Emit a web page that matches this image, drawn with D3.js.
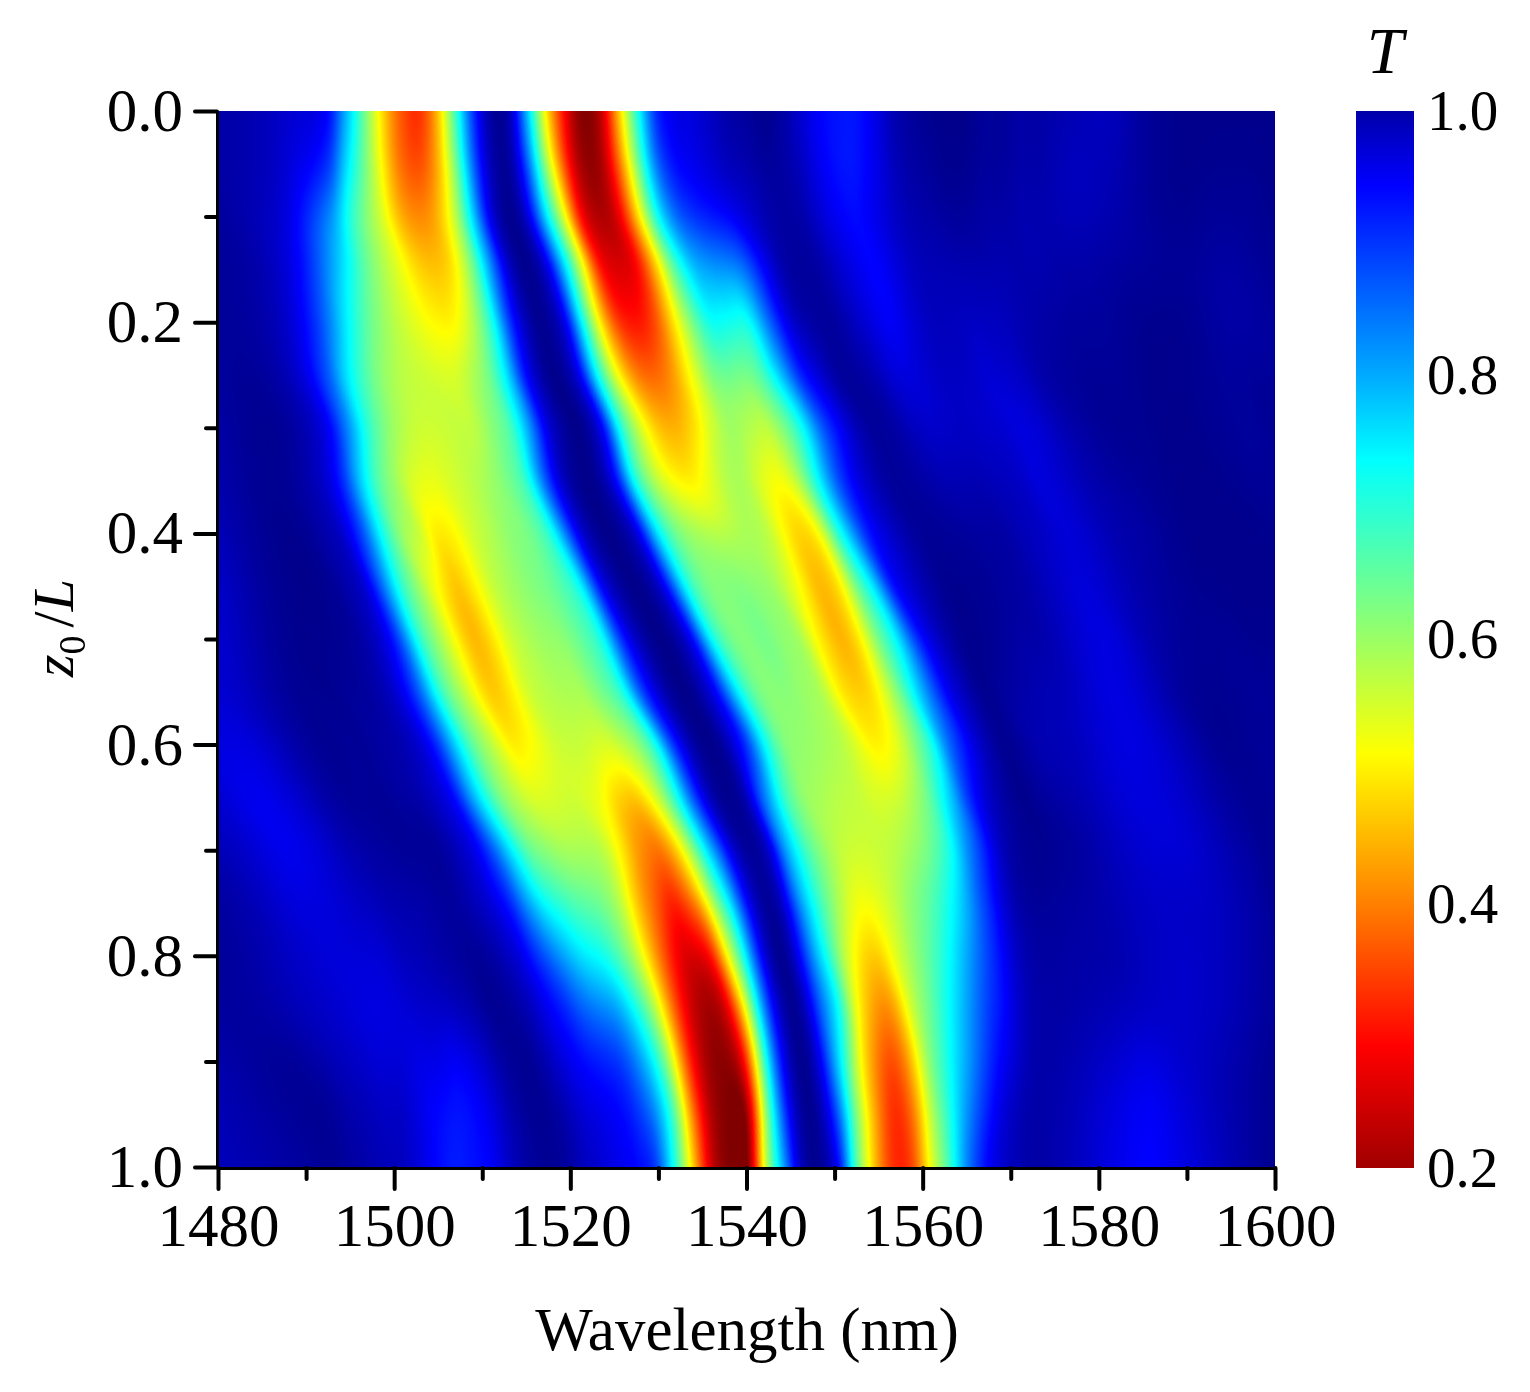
<!DOCTYPE html>
<html><head><meta charset="utf-8">
<style>html,body{margin:0;background:#fff}#w{position:relative;width:1530px;height:1392px}canvas,svg{position:absolute;left:0;top:0}
text{font-family:"Liberation Serif",serif;fill:#000}</style>
<script src="https://cdn.jsdelivr.net/npm/d3@7"></script></head><body><div id="w"><canvas id="c" width="1530" height="1392"></canvas><svg id="s" width="1530" height="1392"></svg></div>
<script>
const wavelengths=[1480,1484.1,1488.3,1492.5,1494.5,1496.6,1498.7,1500.7,1502.8,1504.8,1506.9,1509,1511,1513.1,1515.1,1517.2,1519.4,1521.3,1523.5,1525.6,1527.6,1529.7,1531.7,1533.8,1535.9,1537.9,1540,1542.2,1544.2,1546.2,1548.3,1550.5,1552.5,1554.6,1556.6,1558.7,1560.9,1562.8,1565,1567.1,1569,1571.2,1573.2,1577.4,1581.5,1585.6,1589.7,1593.9,1598.1,1600];
const positions=[0,.05,.1,.15,.2,.25,.3,.35,.4,.45,.5,.55,.6,.65,.7,.75,.8,.85,.9,.95,1];
// how far (nm) the central dark valley has moved at each position; rows are joined along this drift
const valleyDrift=[0,.3,1.1,3.1,4.7,6.1,8.5,10.1,12.8,15.6,18.4,21.1,24.3,26.7,29.4,30.8,31.9,33.2,34.3,35.1,35.4];
// T x 100 at each position (rows) and wavelength (columns)
const t00=[97,96,94,91,78,62,47,37,33,44,66,87,98,95,72,47,29,20,26,49,70,88,92,93,95,97,98,99,97,93,90,89,89,92,96,98,99,99,99,98,98,97,97,96,95,98,99,99,99,99];
const t05=[97,96,93,88,74,62,49,38,35,42,59,82,95,97,84,58,33,22,23,39,60,81,90,92,94,96,97,98,97,95,91,88,88,91,95,97,98,99,99,98,98,97,97,95,96,98,99,99,99,99];
const t10=[98,96,93,80,69,60,53,44,41,44,53,71,91,99,94,74,55,32,23,27,45,66,80,87,90,92,93,95,97,97,94,91,90,92,94,96,97,98,98,97,97,96,96,95,96,98,99,98,98,99];
const t15=[98,97,92,78,70,62,56,51,47,46,49,63,80,95,99,93,75,54,31,28,30,44,62,73,77,79,80,90,97,98,97,94,92,90,92,95,96,96,96,96,96,96,96,97,98,98,98,97,98,99];
const t20=[98,97,93,81,71,63,58,54,51,49,49,57,68,87,96,98,91,67,44,32,30,37,49,60,70,69,67,82,92,97,98,97,94,91,90,93,95,95,95,95,95,96,97,98,98,99,99,97,97,98];
const t25=[97,98,95,84,73,65,59,56,55,54,54,57,61,72,88,98,98,90,70,53,42,38,40,48,58,60,60,65,75,87,93,98,98,97,94,93,94,95,95,93,94,95,97,98,98,99,99,98,98,98];
const t30=[97,99,98,92,81,68,60,56,54,54,55,55,60,66,78,93,98,99,91,67,54,46,45,49,55,58,56,55,61,68,80,89,95,98,97,95,94,94,94,93,93,92,93,97,99,99,99,98,98,99];
const t35=[96,98,98,93,85,72,62,56,53,52,53,55,58,61,66,83,95,99,97,86,67,55,49,47,51,56,56,52,51,57,70,84,92,96,98,98,97,96,96,96,96,95,93,95,97,98,99,99,98,98];
const t40=[95,98,99,96,93,84,68,58,56,48,48,53,56,59,60,66,81,94,99,98,93,74,64,60,58,57,57,56,50,46,50,69,82,90,94,97,98,98,98,98,98,96,95,93,96,97,99,99,99,99];
const t45=[93,97,99,99,97,94,80,66,58,49,44,49,55,58,60,62,65,70,90,97,99,95,82,66,60,60,60,59,55,50,44,47,60,72,90,94,97,99,99,99,98,97,96,93,95,97,99,99,99,99];
const t50=[93,97,99,99,98,97,93,84,67,58,50,44,47,53,56,58,59,62,68,85,95,99,98,91,69,61,60,62,59,57,48,43,48,60,68,81,92,97,99,99,98,97,97,94,92,96,98,98,99,99];
const t55=[94,96,98,99,98,98,96,92,83,69,59,51,45,48,54,56,57,57,62,68,82,92,98,99,93,82,68,60,59,58,57,49,46,47,55,67,80,90,95,99,98,97,96,95,92,95,98,99,98,98];
const t60=[92,93,97,99,98,98,97,96,93,85,72,61,55,48,50,53,55,55,55,57,59,68,87,97,99,95,88,70,60,59,58,56,52,48,51,60,68,82,90,96,99,97,95,95,92,93,96,99,98,98];
const t65=[94,91,93,97,98,98,98,97,96,94,90,76,65,57,54,53,53,52,51,46,44,52,65,81,95,99,97,79,65,59,57,55,54,52,53,56,60,70,84,93,97,99,98,97,94,93,94,97,98,98];
const t70=[96,93,91,94,96,97,98,99,99,99,96,91,82,70,61,58,56,56,56,49,41,40,47,62,80,93,98,93,75,65,59,55,54,54,55,58,62,69,82,90,97,99,99,98,95,93,93,96,98,99];
const t75=[98,96,93,93,94,95,96,96,96,97,97,95,93,89,78,69,65,63,61,55,44,37,31,39,54,68,89,98,94,79,67,58,52,52,55,60,64,69,76,85,93,97,98,97,96,95,95,95,97,99];
const t80=[98,97,95,93,93,93,93,95,96,97,98,99,98,95,91,85,78,72,68,62,54,42,31,26,28,50,70,93,99,89,72,58,49,46,51,57,62,68,76,84,89,95,97,97,97,95,94,95,97,98];
const t85=[98,97,95,94,93,92,92,93,94,95,96,97,99,98,96,92,88,83,80,77,68,55,38,26,22,28,52,82,96,97,85,74,53,43,42,54,62,70,78,85,89,95,97,97,96,95,94,95,97,98];
const t90=[96,98,99,96,95,94,93,93,92,92,90,92,95,98,99,96,92,90,89,87,80,69,52,31,22,22,33,66,90,99,91,70,51,40,35,44,60,68,76,84,90,95,97,96,94,92,94,96,98,99];
const t95=[96,97,98,99,97,96,95,95,92,89,88,89,92,96,98,99,97,94,92,90,86,78,65,40,24,20,20,60,87,98,96,80,60,43,33,39,56,67,79,88,94,97,97,95,92,90,93,96,98,99];
const t100=[95,96,97,98,98,97,96,95,93,90,88,89,90,94,97,98,98,96,94,92,91,88,70,50,28,20,20,54,74,94,99,92,64,45,34,34,50,63,80,90,94,96,97,95,92,90,92,95,98,99];
const transmission=[t00,t05,t10,t15,t20,t25,t30,t35,t40,t45,t50,t55,t60,t65,t70,t75,t80,t85,t90,t95,t100];
transmission.forEach((r,i)=>{if(r.length!==wavelengths.length)throw new Error('row '+i+' has '+r.length)});

const xTicks=[1480,1500,1520,1540,1560,1580,1600], xMinor=[1490,1510,1530,1550,1570,1590];
const yTicks=[0,.2,.4,.6,.8,1], yMinor=[.1,.3,.5,.7,.9];
const barTicks=[1,.8,.6,.4,.2];
const colorStops=[1,.9,.7,.5,.3,.2], colorValues=['#000080','#0000ff','#00ffff','#ffff00','#ff0000','#800000'];
const barStops=[1,.944,.8,.736,.623,.514,.4,.292,.2], barValues=['#0000aa','#0000ff','#00aaff','#00ffff','#80ff80','#ffff00','#ff8000','#ff0000','#a00000'];

const L=218,R=1275,T=111,B=1167, FS=61;
const x=d3.scaleLinear().domain([1480,1600]).range([L,R]);
const y=d3.scaleLinear().domain([0,1]).range([T,B]);
const color=d3.scaleLinear().domain(colorStops).range(colorValues).clamp(true);
const bar=d3.scaleLinear().domain([1,.2]).range([T,B+1]);

function herm(xs,vs,v){
  let i=Math.min(Math.max(d3.bisectRight(xs,v)-1,0),xs.length-2);
  const i0=Math.max(i-1,0),i3=Math.min(i+2,xs.length-1),x1=xs[i],x2=xs[i+1],h=x2-x1,s=(v-x1)/h;
  const m1=(vs[i+1]-vs[i0])/(x2-xs[i0])*h, m2=(vs[i3]-vs[i])/(xs[i3]-x1)*h;
  return (2*s*s*s-3*s*s+1)*vs[i]+(s*s*s-2*s*s+s)*m1+(-2*s*s*s+3*s*s)*vs[i+1]+(s*s*s-s*s)*m2;
}
const ctx=document.getElementById('c').getContext('2d');
const W=R-L,H=B-T,img=ctx.createImageData(W,H);
const n=positions.length, STEP=.05, NF=Math.round(120/STEP)+1;
// each read row, sampled finely along wavelength
const fine=transmission.map(r=>Float32Array.from({length:NF},(_,i)=>herm(wavelengths,r,1480+i*STEP)));
const sigma=.75; // smoothing across read rows, in rows; evens out reading noise
for(let j=0;j<H;j++){
  const z=y.invert(T+j+.5), d=herm(positions,valleyDrift,z), rc=z/.05;
  const ks=d3.range(Math.max(0,Math.floor(rc)-3),Math.min(n,Math.floor(rc)+5));
  const ws=ks.map(k=>Math.exp(-.5*((k-rc)/sigma)**2)), sw=d3.sum(ws);
  const offs=ks.map(k=>valleyDrift[k]-d);
  for(let i=0;i<W;i++){
    const l=x.invert(L+i+.5);
    let s=0;
    for(let q=0;q<ks.length;q++){
      const a=Math.max(0,Math.min(NF-1,Math.round((l+offs[q]-1480)/STEP)));
      s+=ws[q]*fine[ks[q]][a];
    }
    const v=Math.max(.2,Math.min(1,s/sw/100));
    const c=d3.rgb(color(v));
    const p=(j*W+i)*4;img.data[p]=c.r;img.data[p+1]=c.g;img.data[p+2]=c.b;img.data[p+3]=255;
  }
}
ctx.putImageData(img,L,T);

const svg=d3.select('#s');
const defs=svg.append('defs');
const g=defs.append('linearGradient').attr('id','bar').attr('x1',0).attr('x2',0).attr('y1',0).attr('y2',1);
barStops.forEach((s,i)=>g.append('stop').attr('offset',(1-s)/.8).attr('stop-color',barValues[i]));
svg.append('rect').attr('x',1356).attr('width',58).attr('y',bar(1)).attr('height',bar(.2)-bar(1)).attr('fill','url(#bar)');

function style(a,tw,fs){a.selectAll('.tick line').attr('stroke','#000').attr('stroke-width',tw).attr('stroke-linecap','round');
  a.select('.domain').attr('stroke','#000').attr('stroke-width',3);
  a.selectAll('text').style('font-family','"Liberation Serif",serif').style('font-size',fs+'px').attr('fill','#000');}
const ax=svg.append('g').attr('transform',`translate(0,${B+1})`).call(d3.axisBottom(x).tickValues(xTicks).tickSize(21).tickPadding(14).tickFormat(d3.format('d')).tickSizeOuter(0));
style(ax,4,FS);
const axm=svg.append('g').attr('transform',`translate(0,${B+1})`).call(d3.axisBottom(x).tickValues(xMinor).tickSize(11).tickFormat('').tickSizeOuter(0));
style(axm,4,FS);
const ay=svg.append('g').attr('transform',`translate(${L-1},0)`).call(d3.axisLeft(y).tickValues(yTicks).tickSize(22).tickPadding(12).tickFormat(d3.format('.1f')).tickSizeOuter(0));
style(ay,4,FS);
const aym=svg.append('g').attr('transform',`translate(${L-1},0)`).call(d3.axisLeft(y).tickValues(yMinor).tickSize(11).tickFormat('').tickSizeOuter(0));
style(aym,4,FS);
const ab=svg.append('g').attr('transform','translate(1414,0)').call(d3.axisRight(bar).tickValues(barTicks).tickSize(0).tickPadding(13).tickFormat(d3.format('.1f')));
style(ab,0,57);ab.select('.domain').remove();

svg.append('text').attr('x',747).attr('y',1350).attr('text-anchor','middle').style('font-size','61px').text('Wavelength (nm)');
svg.append('text').attr('x',1385).attr('y',73).attr('text-anchor','middle').style('font-size','66px').style('font-style','italic').text('T');
const yl=svg.append('text').attr('transform','translate(73,628) rotate(-90)').attr('text-anchor','middle').style('font-size','58px');
yl.append('tspan').style('font-style','italic').text('z');
yl.append('tspan').attr('dy',12).style('font-size','38px').text('0');
yl.append('tspan').attr('dy',-12).attr('dx',8).text('/');
yl.append('tspan').style('font-style','italic').text('L');
</script></body></html>
